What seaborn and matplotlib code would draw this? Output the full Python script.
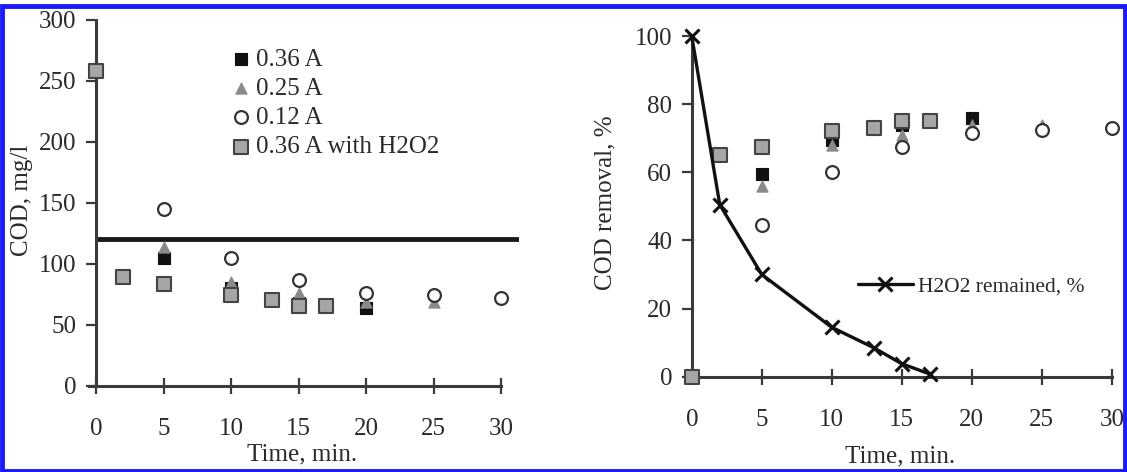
import matplotlib
matplotlib.use("Agg")
import matplotlib.pyplot as plt
import seaborn as sns
import pandas as pd
from matplotlib.patches import Rectangle

sns.set_theme(style="white")
plt.rcParams['font.family'] = ['Liberation Serif', 'DejaVu Serif']

# ---------------- data ----------------
t_std = [0, 5, 10, 15, 20]             # 0.36 A
t_025 = [0, 5, 10, 15, 20, 25]         # 0.25 A
t_012 = [0, 5, 10, 15, 20, 25, 30]     # 0.12 A
t_h2 = [0, 2, 5, 10, 13, 15, 17]       # 0.36 A with H2O2

cod_036 = [258, 105, 80, 68, 64]
cod_025 = [258, 114, 85, 76, 69, 69]
cod_012 = [258, 145, 105, 87, 76, 74, 72]
cod_h2 = [258, 89, 83, 74, 70, 65, 65]

rem_036 = [0, 59.5, 69.5, 74, 76]
rem_025 = [0, 56, 68, 71, 74, 74]
rem_012 = [0, 44.5, 60, 67.5, 71.5, 72.5, 73]
rem_h2 = [0, 65, 67.5, 72, 73, 75, 75]

h2o2_remained = [100, 50.5, 30, 14.5, 8.5, 3.8, 0.8]

cod_limit = 120
labels = ["0.36 A", "0.25 A", "0.12 A", "0.36 A with H2O2"]
xticks = [0, 5, 10, 15, 20, 25, 30]
yticks_left = [0, 50, 100, 150, 200, 250, 300]
yticks_right = [0, 20, 40, 60, 80, 100]

# ---------------- styles ----------------
TXT = "#2a2a2a"
AX = "#3a3a3a"
FS = 18
styles = [
    dict(marker="s", color="#111111", edgecolor="#111111", s=75, linewidth=0.8),
    dict(marker="^", color="#8a8a8a", edgecolor="#8a8a8a", s=65, linewidth=0.8),
    dict(marker="o", color="white", edgecolor="#333333", s=85, linewidth=1.6),
    dict(marker="s", color="#a6a6a6", edgecolor="#444444", s=115, linewidth=1.5),
]

fig = plt.figure(figsize=(11.27, 4.72), dpi=100)
ax1 = fig.add_axes([0.0852, 0.1828, 0.375, 0.7754])
ax2 = fig.add_axes([0.6138, 0.2019, 0.3727, 0.7218])

left_sets = [(t_std, cod_036), (t_025, cod_025), (t_012, cod_012), (t_h2, cod_h2)]
right_sets = [(t_std, rem_036), (t_025, rem_025), (t_012, rem_012), (t_h2, rem_h2)]

for (tx, vy), st, lab in zip(left_sets, styles, labels):
    df = pd.DataFrame({"t": tx, "v": vy})
    sns.scatterplot(data=df, x="t", y="v", ax=ax1, label=lab, clip_on=False,
                    zorder=3, **st)
for (tx, vy), st in zip(right_sets, styles):
    df = pd.DataFrame({"t": tx, "v": vy})
    sns.scatterplot(data=df, x="t", y="v", ax=ax2, clip_on=False, zorder=3,
                    legend=False, **st)

ax1.axhline(cod_limit, color="#1a1a1a", lw=3.5, zorder=2)

dfh = pd.DataFrame({"t": t_h2, "v": h2o2_remained})
sns.lineplot(data=dfh, x="t", y="v", ax=ax2, color="#111111", lw=2.4,
             marker="x", markersize=10, markeredgewidth=2.2,
             markeredgecolor="#111111", label="H2O2 remained, %",
             clip_on=False, zorder=4)

# ---------------- axes formatting ----------------
for ax, yt, ylim, xmax in [(ax1, yticks_left, (0, 300), 31.3),
                            (ax2, yticks_right, (0, 100), 30)]:
    ax.set_xlim(0, xmax)
    ax.set_ylim(*ylim)
    ax.set_xticks(xticks)
    ax.set_yticks(yt)
    for s in ["top", "right"]:
        ax.spines[s].set_visible(False)
    for s in ["left", "bottom"]:
        ax.spines[s].set_color(AX)
        ax.spines[s].set_linewidth(2.2)
    ax.spines["bottom"].set_bounds(-0.5, 30)
    ax.spines["left"].set_bounds(*ylim)
    ax.tick_params(axis="x", direction="inout", length=12, width=1.6,
                   color=AX, pad=17, labelsize=FS, labelcolor=TXT, bottom=True)
    ax.tick_params(axis="y", direction="out", length=7, width=1.6,
                   color=AX, pad=7, labelsize=FS, labelcolor=TXT, left=True)
    ax.set_xlabel("Time, min.", fontsize=FS, color=TXT)
    ax.patch.set_alpha(0)

ax1.set_ylabel("COD, mg/l", fontsize=FS, color=TXT)
ax2.set_ylabel("COD removal, %", fontsize=FS, color=TXT)
ax1.xaxis.set_label_coords(0.487, -0.157)
ax2.xaxis.set_label_coords(0.496, -0.203)
ax1.yaxis.set_label_coords(-0.15, 0.507)
ax2.yaxis.set_label_coords(-0.18, 0.51)

leg1 = ax1.legend(loc="upper left", bbox_to_anchor=(0.289, 0.95), frameon=False,
                  fontsize=FS, handletextpad=0.1, labelspacing=0.27,
                  handlelength=1.0, borderaxespad=0)
for txt in leg1.get_texts():
    txt.set_color(TXT)

leg2 = ax2.legend(loc="center left", bbox_to_anchor=(0.375, 0.266), frameon=False,
                  fontsize=15.5, handletextpad=0.25, handlelength=2.55,
                  borderaxespad=0)
for txt in leg2.get_texts():
    txt.set_color(TXT)

# blue frame
fig.patches.append(Rectangle((0.002, 0.003), 0.996, 0.985, transform=fig.transFigure,
                             fill=False, edgecolor="#1a1aff", linewidth=3.5))

fig.savefig("out.png", dpi=100)
